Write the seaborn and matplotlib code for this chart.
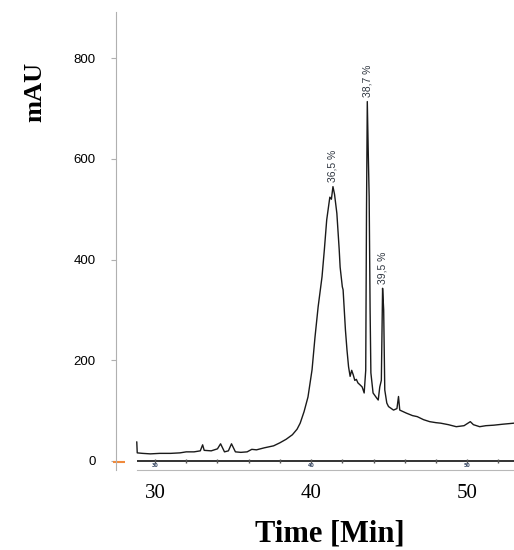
import numpy as np
import pandas as pd
import matplotlib
matplotlib.use('Agg')
import matplotlib.pyplot as plt
import seaborn as sns

# chromatogram trace
time_min = [28.83, 28.86, 29.2, 29.7, 30.3, 31.0, 31.6, 32.0, 32.5, 32.9,
            33.05, 33.15, 33.6, 34.0, 34.2, 34.45, 34.7, 34.9, 35.15, 35.5,
            35.9, 36.2, 36.5, 37.0, 37.6, 38.0, 38.4, 38.8, 39.1, 39.3,
            39.55, 39.8, 40.06, 40.25, 40.45, 40.7, 40.85, 41.0, 41.2, 41.3,
            41.4, 41.5, 41.65, 41.8, 41.86, 42.0, 42.05, 42.2, 42.3, 42.4,
            42.5, 42.6, 42.7, 42.8, 42.9, 43.0, 43.14, 43.27, 43.4, 43.5,
            43.55, 43.6, 43.67, 43.72, 43.78, 43.83, 43.97, 44.2, 44.3, 44.4,
            44.5, 44.58, 44.65, 44.72, 44.85, 44.96, 45.28, 45.5, 45.6, 45.68,
            46.1, 46.5, 46.8, 47.2, 47.6, 48.0, 48.3, 48.8, 49.3, 49.8,
            50.2, 50.4, 50.8, 51.2, 51.7, 52.3, 53.0]
mau = [38, 16, 15, 14, 15, 15, 16, 18, 18, 20,
       32, 21, 20, 24, 34, 18, 20, 34, 18, 17,
       18, 23, 22, 26, 30, 36, 43, 52, 63, 75,
       98, 127, 181, 246, 306, 366, 420, 479, 524, 520,
       545, 530, 492, 420, 385, 346, 340, 260, 220, 187,
       168, 180, 171, 160, 162, 155, 151, 147, 135, 180,
       500, 714, 600, 525, 300, 175, 135, 125, 121, 147,
       160, 343, 300, 141, 115, 108, 101, 104, 128, 101,
       95, 90, 88, 82, 78, 76, 75, 72, 68, 70,
       78, 72, 68, 70, 71, 73, 75]

peak_times = [41.4, 43.6, 44.58]
peak_heights = [545, 714, 343]
peak_labels = ['36,5 %', '38,7 %', '39,5 %']

y_ticks = [0, 200, 400, 600, 800]
x_ticks = [30, 40, 50]
minor_ticks = [30, 32, 34, 36, 38, 40, 42, 44, 46, 48, 50, 52]

df = pd.DataFrame({'Time': time_min, 'mAU': mau})

sns.set_style('white')
fig = plt.figure(figsize=(5.14, 5.5), dpi=100)
ax = fig.add_axes([0.2257, 0.1455, 0.7743, 0.8327])

sns.lineplot(data=df, x='Time', y='mAU', ax=ax, color='#1a1a1a', linewidth=1.0)

ax.set_xlim(27.5, 53.0)
ax.set_ylim(-18, 892)

# instrument-style baseline bar under the trace
ax.hlines(0, time_min[0], 53.0, color='#222222', linewidth=1.3)
ax.plot(minor_ticks, [0] * len(minor_ticks), linestyle='none', marker='|',
        markersize=3, color='#555555')
for xt in x_ticks:
    ax.text(xt, -10, str(xt), fontsize=3.5, ha='center', va='center',
            color='#3a4a66', fontweight='bold')
ax.hlines(-3, 27.3, 28.05, color='#f08a3c', linewidth=1.5, clip_on=False)

for pt, ph, pl in zip(peak_times, peak_heights, peak_labels):
    ax.annotate(pl, (pt, ph), xytext=(0, 3), textcoords='offset points',
                rotation=90, ha='center', va='bottom', fontsize=7.5,
                color='#2f3640', family='Liberation Sans')

for s in ['top', 'right']:
    ax.spines[s].set_visible(False)
ax.spines['left'].set_color('#b0b0b0')
ax.spines['bottom'].set_color('#b8b8b8')
ax.spines['bottom'].set_bounds(time_min[0], 53.0)

ax.set_yticks(y_ticks)
ax.set_yticklabels([str(v) for v in y_ticks], fontsize=9.5, family='Liberation Sans')
ax.tick_params(axis='y', length=3.6, width=0.8, color='#b0b0b0', pad=11,
               left=True, labelcolor='black')
ax.set_xticks(x_ticks)
ax.set_xticklabels([str(v) for v in x_ticks], fontsize=15, family='Liberation Serif')
ax.tick_params(axis='x', length=0, pad=10, labelcolor='black')

ax.set_xlabel('Time [Min]', fontsize=22, fontweight='bold',
              family='Liberation Serif', color='black')
ax.xaxis.set_label_coords(0.5377, -0.14)
ax.xaxis.label.set_va('center')
ax.set_ylabel('mAU', fontsize=19, fontweight='bold',
              family='Liberation Serif', color='black')
ax.yaxis.set_label_coords(-0.2035, 0.825)
ax.yaxis.label.set_va('center')

fig.savefig('out.png', dpi=100)
